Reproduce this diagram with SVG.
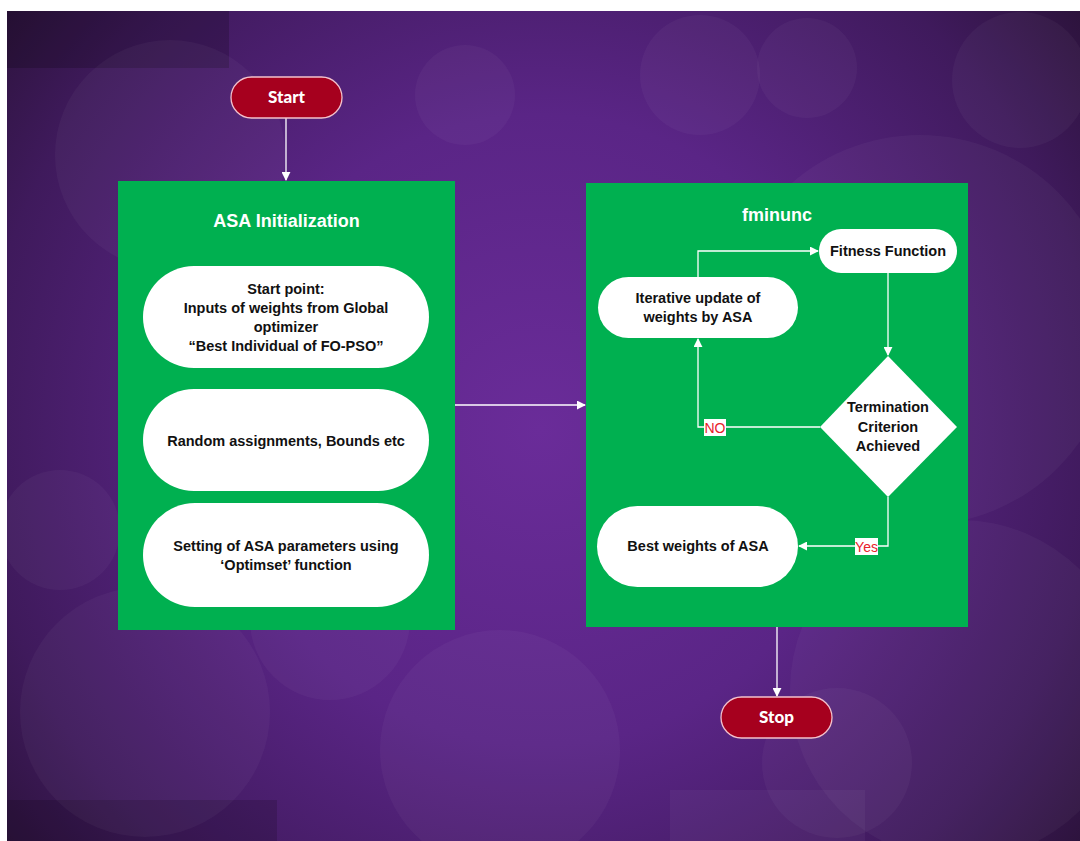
<svg xmlns="http://www.w3.org/2000/svg" width="1080" height="841" viewBox="0 0 1080 841">
<defs>
<radialGradient id="bg" cx="540" cy="430" r="700" gradientUnits="userSpaceOnUse">
<stop offset="0" stop-color="#6a2c99"/>
<stop offset="0.45" stop-color="#5a2586"/>
<stop offset="0.8" stop-color="#3f1a5c"/>
<stop offset="1" stop-color="#2a1238"/>
</radialGradient>
<marker id="ah" viewBox="0 0 10 10" refX="9" refY="5" markerWidth="9" markerHeight="9" markerUnits="userSpaceOnUse" orient="auto">
<path d="M0,0 L10,5 L0,10 z" fill="#ffffff"/>
</marker>
<style>
.cir{fill:#ffffff;fill-opacity:0.035}
.panel{fill:#00b050}
.pill{fill:#ffffff}
.term{fill:#a6001e;stroke:#f3c1cc;stroke-width:1.3}
.tt{font-family:"Lato","Liberation Sans",sans-serif;font-weight:900;font-size:17px;fill:#ffffff;text-anchor:middle}
.title{font-family:"Liberation Sans",Arial,sans-serif;font-weight:bold;font-size:18px;fill:#ffffff;text-anchor:middle}
.lbl{font-family:"Liberation Sans",Arial,sans-serif;font-weight:bold;font-size:14.5px;fill:#111111;text-anchor:middle}
.cond{font-family:"Liberation Sans",Arial,sans-serif;font-size:14px;fill:#e8202a;text-anchor:middle}
.ln{fill:none;stroke:#ffffff;stroke-width:1.3}
</style>
</defs>
<rect x="0" y="0" width="1080" height="841" fill="#ffffff"/>
<g id="background">
<rect x="7" y="11" width="1073" height="830" fill="url(#bg)"/>
<rect x="7" y="11" width="222" height="57" fill="#000000" fill-opacity="0.18"/>
<rect x="7" y="800" width="270" height="41" fill="#000000" fill-opacity="0.15"/>
<circle class="cir" cx="170" cy="155" r="115"/>
<circle class="cir" cx="465" cy="95" r="50"/>
<circle class="cir" cx="700" cy="75" r="60"/>
<circle class="cir" cx="807" cy="68" r="50"/>
<circle class="cir" cx="1020" cy="80" r="68"/>
<circle class="cir" cx="920" cy="330" r="195"/>
<circle class="cir" cx="145" cy="712" r="125"/>
<circle class="cir" cx="60" cy="530" r="60"/>
<circle class="cir" cx="500" cy="750" r="120"/>
<circle class="cir" cx="837" cy="763" r="75"/>
<circle class="cir" cx="960" cy="690" r="170"/>
<circle class="cir" cx="330" cy="620" r="80"/>
<rect x="670" y="790" width="195" height="51" fill="#ffffff" fill-opacity="0.04"/>
</g>
<g id="asa-init">
<rect class="panel" x="118" y="181" width="337" height="449"/>
<text class="title" x="286.5" y="227">ASA Initialization</text>
</g>
<g id="fminunc">
<rect class="panel" x="586" y="183" width="382" height="444"/>
<text class="title" x="777" y="221">fminunc</text>
</g>
<g id="connectors">
<line class="ln" x1="286" y1="118" x2="286" y2="180" marker-end="url(#ah)"/>
<line class="ln" x1="455" y1="405" x2="585" y2="405" marker-end="url(#ah)"/>
<polyline class="ln" points="698,277 698,251 818,251" marker-end="url(#ah)"/>
<line class="ln" x1="888" y1="273" x2="888" y2="355" marker-end="url(#ah)"/>
<polyline class="ln" points="820,427 698,427 698,339" marker-end="url(#ah)"/>
<polyline class="ln" points="888,497 888,546 799,546" marker-end="url(#ah)"/>
<line class="ln" x1="777" y1="627" x2="777" y2="696" marker-end="url(#ah)"/>
<rect x="704" y="419" width="22" height="17" fill="#ffffff"/>
<text class="cond" x="715" y="433">NO</text>
<rect x="855" y="538" width="23" height="17" fill="#ffffff"/>
<text class="cond" x="866.5" y="552">Yes</text>
</g>
<g id="start">
<rect class="term" x="231" y="77" width="111" height="41" rx="20.5"/>
<text class="tt" x="286.5" y="103">Start</text>
</g>
<g id="start-point">
<rect class="pill" x="143" y="266" width="286" height="102" rx="51"/>
<text class="lbl" x="286" y="294">Start point:</text>
<text class="lbl" x="286" y="313">Inputs of weights from Global</text>
<text class="lbl" x="286" y="332">optimizer</text>
<text class="lbl" x="286" y="351">“Best Individual of FO-PSO”</text>
</g>
<g id="random">
<rect class="pill" x="143" y="389" width="286" height="102" rx="51"/>
<text class="lbl" x="286" y="446">Random assignments, Bounds etc</text>
</g>
<g id="setting">
<rect class="pill" x="143" y="503" width="286" height="104" rx="52"/>
<text class="lbl" x="286" y="551">Setting of ASA parameters using</text>
<text class="lbl" x="286" y="570">‘Optimset’ function</text>
</g>
<g id="fitness">
<rect class="pill" x="819" y="229" width="138" height="44" rx="22"/>
<text class="lbl" x="888" y="256">Fitness Function</text>
</g>
<g id="iterative">
<rect class="pill" x="598" y="277" width="200" height="61" rx="30.5"/>
<text class="lbl" x="698" y="303">Iterative update of</text>
<text class="lbl" x="698" y="322">weights by ASA</text>
</g>
<g id="termination">
<polygon class="pill" points="888,356 957,427 888,497 820,427"/>
<text class="lbl" x="888" y="412">Termination</text>
<text class="lbl" x="888" y="432">Criterion</text>
<text class="lbl" x="888" y="451">Achieved</text>
</g>
<g id="best">
<rect class="pill" x="597" y="506" width="201" height="81" rx="40.5"/>
<text class="lbl" x="698" y="551">Best weights of ASA</text>
</g>
<g id="stop">
<rect class="term" x="721" y="697" width="111" height="41" rx="20.5"/>
<text class="tt" x="776.5" y="723">Stop</text>
</g>
</svg>
